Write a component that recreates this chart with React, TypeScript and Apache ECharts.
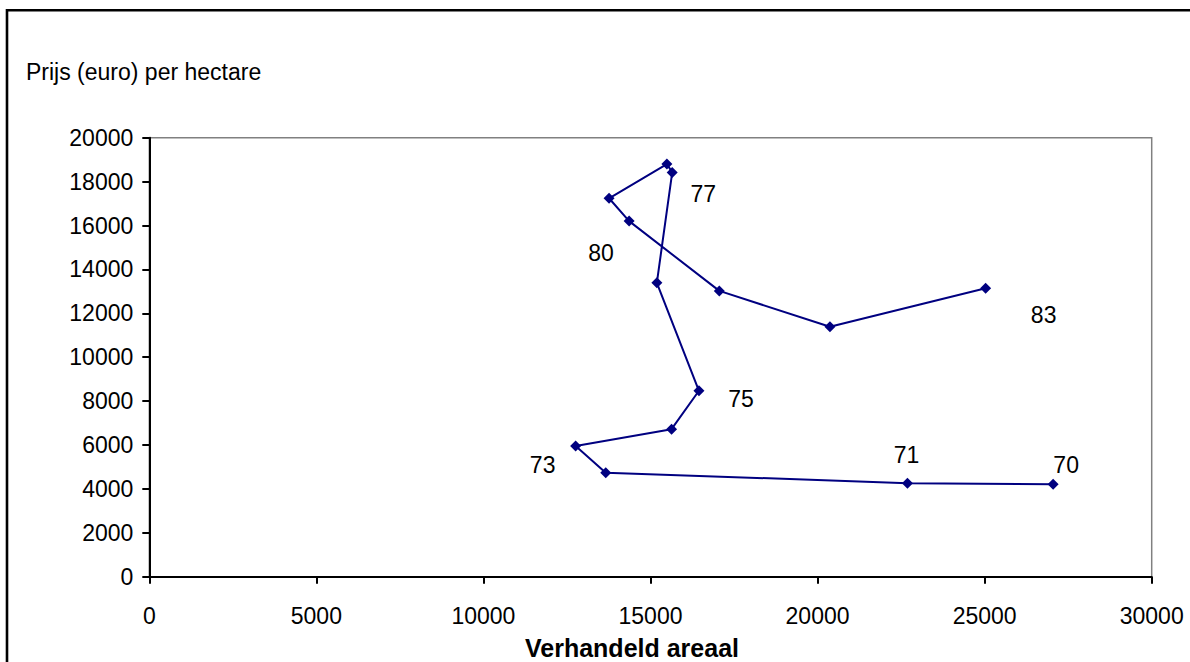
import React, { useEffect, useRef } from "react";
import * as echarts from "echarts";

// Jaar (1970..1983), verhandeld areaal (x) en prijs per hectare (y)
const years = ["70", "71", "72", "73", "74", "75", "76", "77", "78", "79", "80", "81", "82", "83"];
const areaal = [27050, 22690, 13660, 12760, 15630, 16450, 15190, 15650, 15490, 13760, 14360, 17060, 20370, 25030];
const prijs = [4210, 4260, 4740, 5950, 6720, 8470, 13390, 18420, 18800, 17240, 16200, 13020, 11390, 13140];
const labeledYears = ["70", "71", "73", "75", "77", "80", "83"];

const xTicks = { min: 0, max: 30000, interval: 5000 };
const yTicks = { min: 0, max: 20000, interval: 2000 };

const xTitle = "Verhandeld areaal";
const yTitle = "Prijs (euro) per hectare";

// label placement (pixels relative to the marker)
const labelOffsets: Record<string, [number, number]> = {
  "70": [13, -19],
  "71": [-1, -28],
  "73": [-33, 19],
  "75": [42, 8],
  "77": [31, 22],
  "80": [-28, 32],
  "83": [58, 27],
};

const FONT = '"Liberation Sans", Arial, sans-serif';

export default function App() {
  const ref = useRef<HTMLDivElement>(null);

  useEffect(() => {
    if (!ref.current) return;
    const chart = echarts.init(ref.current, undefined, { renderer: "svg" });

    const data = years.map((yr, i) => {
      const item: any = { value: [areaal[i], prijs[i]], name: yr };
      if (labeledYears.includes(yr)) {
        const off = labelOffsets[yr] || [0, 0];
        item.label = {
          show: true,
          formatter: yr,
          position: "inside",
          offset: off,
          color: "#000",
          fontSize: 23,
          fontFamily: FONT,
        };
      }
      return item;
    });

    chart.setOption({
      animation: false,
      backgroundColor: "#fff",
      textStyle: { fontFamily: FONT },
      grid: {
        left: 149.3,
        right: 38.3,
        top: 137.7,
        bottom: 85.3,
        show: true,
        borderColor: "#808080",
        borderWidth: 1.5,
        backgroundColor: "transparent",
        containLabel: false,
        outerBoundsMode: "none",
      },
      xAxis: {
        type: "value",
        min: xTicks.min,
        max: xTicks.max,
        interval: xTicks.interval,
        axisLine: { show: true, lineStyle: { color: "#000", width: 2 } },
        axisTick: { show: true, inside: false, length: 7, lineStyle: { color: "#000", width: 2 } },
        axisLabel: {
          fontSize: 23,
          color: "#000",
          margin: 28,
          fontFamily: FONT,
          formatter: (v: number) => String(v),
        },
        splitLine: { show: false },
      },
      yAxis: {
        type: "value",
        min: yTicks.min,
        max: yTicks.max,
        interval: yTicks.interval,
        axisLine: { show: true, lineStyle: { color: "#000", width: 2 } },
        axisTick: { show: true, inside: false, length: 7, lineStyle: { color: "#000", width: 2 } },
        axisLabel: {
          fontSize: 23,
          color: "#000",
          margin: 16,
          fontFamily: FONT,
          formatter: (v: number) => String(v),
        },
        splitLine: { show: false },
      },
      graphic: [
        {
          type: "rect",
          shape: { x: 7, y: 10.3, width: 1400, height: 1000 },
          style: { fill: "none", stroke: "#000", lineWidth: 2.6 },
          silent: true,
        },
        {
          type: "text",
          x: 26,
          y: 72,
          style: {
            text: yTitle,
            fontSize: 23,
            fontFamily: FONT,
            fill: "#000",
            textVerticalAlign: "middle",
            textAlign: "left",
          },
        },
        {
          type: "text",
          x: 632,
          y: 648,
          style: {
            text: xTitle,
            fontSize: 25,
            fontWeight: "bold",
            fontFamily: FONT,
            fill: "#000",
            textVerticalAlign: "middle",
            textAlign: "center",
          },
        },
      ],
      series: [
        {
          type: "line",
          data,
          symbol: "diamond",
          symbolSize: 11,
          lineStyle: { color: "#000080", width: 2 },
          itemStyle: { color: "#000080" },
          label: { show: false },
          emphasis: { disabled: true },
        },
      ],
    });

    return () => chart.dispose();
  }, []);

  return (
    <div
      ref={ref}
      style={{ position: "absolute", left: 0, top: 0, width: 1190, height: 662 }}
    />
  );
}
